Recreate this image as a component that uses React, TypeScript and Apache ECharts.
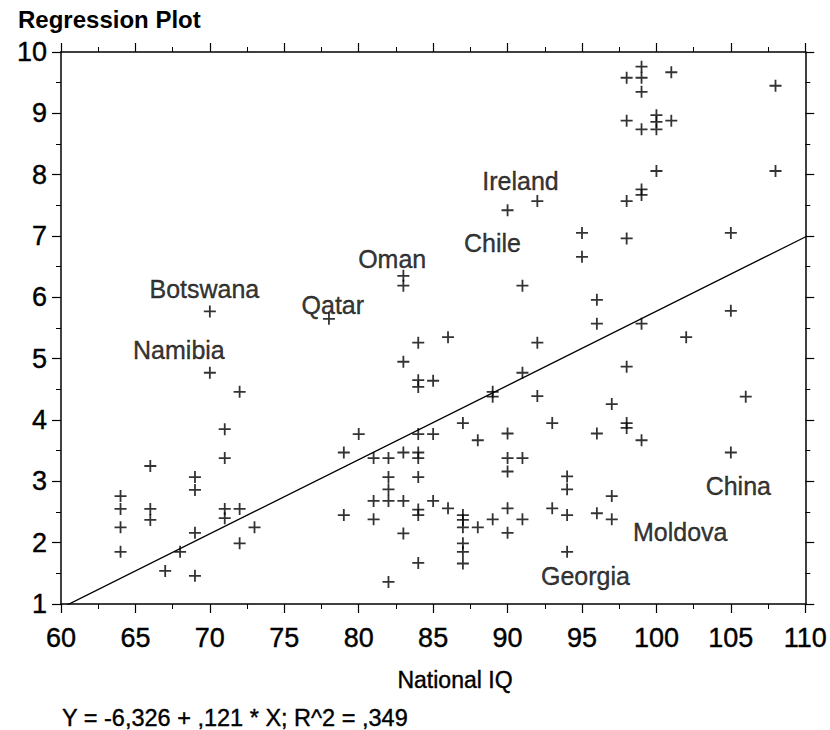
import React, { useEffect, useRef } from "react";
import * as echarts from "echarts";

// National IQ (x) and outcome (y) for each country mark
const nationalIQ = [
  64, 64, 64, 64,
  66, 66, 66,
  67, 68,
  69, 69, 69, 69,
  70, 70,
  71, 71, 71, 71,
  72, 72, 72,
  73, 78,
  79, 79, 80,
  81, 81, 81,
  82, 82, 82, 82, 82,
  83, 83, 83, 83, 83, 83,
  84, 84, 84, 84, 84, 84, 84, 84, 84, 84,
  85, 85, 85,
  86, 86,
  87, 87, 87, 87, 87, 87, 87,
  88, 88,
  89, 89, 89,
  90, 90, 90, 90, 90, 90,
  91, 91, 91, 91,
  92, 92, 92,
  93, 93,
  94, 94, 94, 94,
  95, 95,
  96, 96, 96, 96,
  97, 97, 97,
  98, 98, 98, 98, 98, 98, 98,
  99, 99, 99, 99, 99, 99, 99, 99,
  100, 100, 100, 100,
  101, 101,
  102,
  105, 105, 105,
  106,
  108, 108,
];
const outcome = [
  2.76, 2.55, 2.25, 1.85,
  3.25, 2.55, 2.37,
  1.54, 1.85,
  3.07, 2.86, 2.16, 1.46,
  5.77, 4.77,
  3.85, 3.38, 2.55, 2.4,
  4.46, 2.55, 1.99,
  2.25, 5.65,
  3.47, 2.45, 3.77,
  3.38, 2.68, 2.38,
  3.38, 3.07, 2.87, 2.68, 1.36,
  6.35, 6.19, 4.95, 3.47, 2.68, 2.15,
  5.26, 4.65, 4.54, 3.77, 3.47, 3.38, 3.07, 2.54, 2.45, 1.67,
  4.64, 3.77, 2.68,
  5.35, 2.56,
  3.95, 2.45, 2.37, 2.25, 1.99, 1.85, 1.66,
  3.67, 2.25,
  4.46, 4.38, 2.38,
  7.42, 3.78, 3.38, 3.16, 2.56, 2.16,
  6.19, 4.77, 3.38, 2.38,
  7.57, 5.26, 4.39,
  3.95, 2.56,
  3.08, 2.87, 2.45, 1.85,
  7.05, 6.66,
  5.96, 5.57, 3.78, 2.48,
  4.26, 2.76, 2.38,
  9.58, 8.88, 7.57, 6.96, 4.87, 3.95, 3.87,
  9.76, 9.58, 9.35, 8.74, 7.76, 7.67, 5.57, 3.67,
  8.97, 8.86, 8.74, 8.06,
  9.67, 8.88,
  5.35,
  7.05, 5.78, 3.47,
  4.38,
  9.45, 8.06,
];

// Country annotations (placed in data units)
const labelNames = ["Botswana", "Namibia", "Qatar", "Oman", "Ireland", "Chile", "China", "Moldova", "Georgia"];
const labelIQ = [69.63, 67.92, 78.26, 82.25, 90.87, 88.99, 105.5, 101.6, 95.23];
const labelY = [6.14, 5.14, 5.88, 6.62, 7.9, 6.89, 2.92, 2.18, 1.46];

// Regression coefficients (from the chart's equation)
const intercept = -6.326;
const slope = 0.121;
const equationText = "Y = -6,326 + ,121 * X; R^2 = ,349";
const titleText = "Regression Plot";
const xAxisTitle = "National IQ";

const xMin = 60, xMax = 110, xStep = 5;
const yMin = 1, yMax = 10, yStep = 1;

const FONT = "'Liberation Sans', Arial, Helvetica, sans-serif";

export default function App() {
  const ref = useRef<HTMLDivElement>(null);
  useEffect(() => {
    if (!ref.current) return;
    const chart = echarts.init(ref.current, undefined, { renderer: "svg" });
    const points = nationalIQ.map((x, i) => [x, outcome[i]]);
    const labels = labelNames.map((n, i) => ({ name: n, value: [labelIQ[i], labelY[i]] }));

    const axisLine = { show: true, lineStyle: { color: "#000", width: 1.5 } };
    const tick = { show: true, inside: false, length: 9, lineStyle: { color: "#000", width: 1.2 } };
    const minor = { show: true, splitNumber: 2, length: 5, lineStyle: { color: "#000", width: 1 } };
    const heavy = { textBorderColor: "#000", textBorderWidth: 0.4 };

    chart.setOption({
      animation: false,
      backgroundColor: "#fff",
      textStyle: { fontFamily: FONT },
      grid: { left: 61, right: 24, top: 52, bottom: 126, containLabel: false },
      xAxis: [
        {
          type: "value", min: xMin, max: xMax, interval: xStep, position: "bottom",
          axisLine, axisTick: tick, minorTick: minor, splitLine: { show: false },
          axisLabel: { color: "#000", fontSize: 27, margin: 20, fontFamily: FONT, ...heavy },
        },
        {
          type: "value", min: xMin, max: xMax, interval: xStep, position: "top",
          axisLine, axisTick: tick, minorTick: minor, splitLine: { show: false },
          axisLabel: { show: false },
        },
      ],
      yAxis: [
        {
          type: "value", min: yMin, max: yMax, interval: yStep, position: "left",
          axisLine, axisTick: tick, minorTick: minor, splitLine: { show: false },
          axisLabel: { color: "#000", fontSize: 27, margin: 14, fontFamily: FONT, ...heavy },
        },
        {
          type: "value", min: yMin, max: yMax, interval: yStep, position: "right",
          axisLine, axisTick: tick, minorTick: minor, splitLine: { show: false },
          axisLabel: { show: false },
        },
      ],
      graphic: [
        {
          type: "text", left: 18, top: 7,
          style: { text: titleText, fontSize: 24, fontWeight: "bold", fill: "#000", fontFamily: FONT },
        },
        {
          type: "text", x: 455, y: 680,
          style: { text: xAxisTitle, fontSize: 23, fill: "#000", fontFamily: FONT, align: "center", verticalAlign: "middle", stroke: "#000", lineWidth: 0.4 },
        },
        {
          type: "text", x: 62, y: 718,
          style: { text: equationText, fontSize: 23.5, fill: "#000", fontFamily: FONT, align: "left", verticalAlign: "middle", stroke: "#000", lineWidth: 0.4 },
        },
      ],
      series: [
        {
          type: "line",
          xAxisIndex: 0, yAxisIndex: 0,
          data: [[xMin, intercept + slope * xMin], [xMax, intercept + slope * xMax]],
          symbol: "none",
          lineStyle: { color: "#000", width: 1.3 },
          silent: true,
          clip: true,
        },
        {
          type: "scatter",
          xAxisIndex: 0, yAxisIndex: 0,
          data: points,
          symbol: "path://M0,6 L12,6 M6,0 L6,12",
          symbolSize: 12,
          itemStyle: { color: "transparent", borderColor: "#000", borderWidth: 1.8 },
          silent: true,
        },
        {
          type: "scatter",
          xAxisIndex: 0, yAxisIndex: 0,
          data: labels,
          symbolSize: 0.01,
          itemStyle: { color: "transparent" },
          label: {
            show: true, position: "inside", formatter: "{b}",
            color: "#000", fontSize: 25, fontFamily: FONT, ...heavy,
          },
          silent: true,
        },
      ],
    });
    return () => chart.dispose();
  }, []);
  return <div ref={ref} style={{ position: "fixed", left: 0, top: 0, width: 830, height: 730 }} />;
}
